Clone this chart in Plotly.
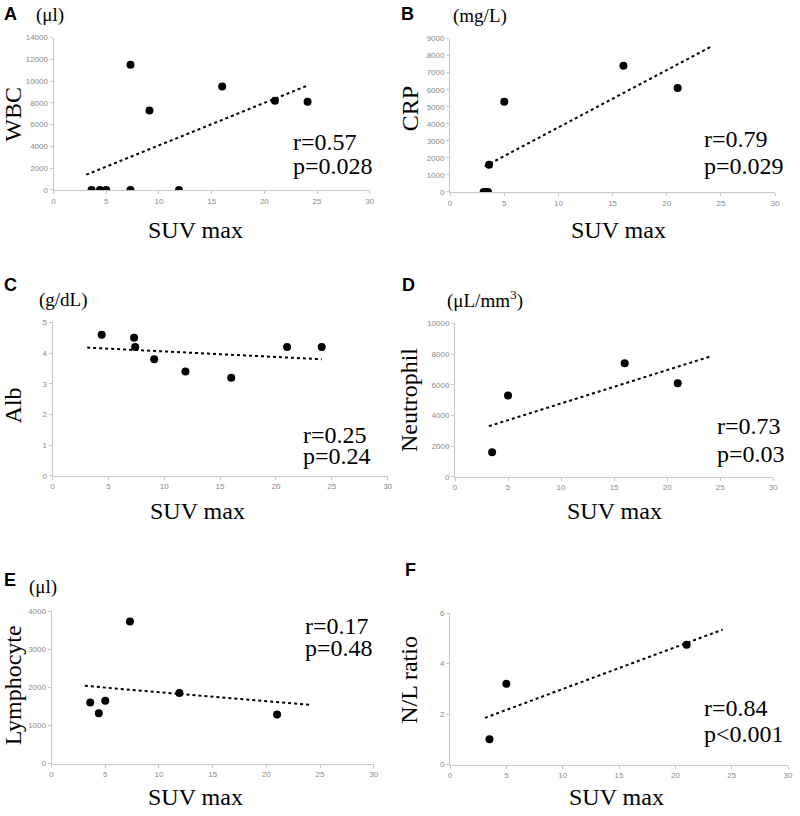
import plotly.graph_objects as go

W, H = 800, 816

# ---- data ----
a_suv = [3.6, 4.4, 5.0, 7.3, 7.3, 9.1, 11.9, 16.0, 21.0, 24.1]
a_wbc = [0, 0, 0, 0, 11500, 7300, 0, 9500, 8200, 8100]
a_trend_x = [3.1, 24.1]
a_trend_y = [1400, 9600]

b_suv = [3.1, 3.3, 3.5, 3.6, 5.0, 16.0, 21.0]
b_crp = [0, 0, 0, 1600, 5300, 7400, 6100]
b_trend_x = [3.2, 24.0]
b_trend_y = [1500, 8500]

c_suv = [4.4, 7.3, 7.4, 9.1, 11.9, 16.0, 21.0, 24.1]
c_alb = [4.6, 4.5, 4.2, 3.8, 3.4, 3.2, 4.2, 4.2]
c_trend_x = [3.1, 24.1]
c_trend_y = [4.18, 3.80]

d_suv = [3.5, 5.0, 16.0, 21.0]
d_neu = [1600, 5300, 7400, 6100]
d_trend_x = [3.2, 24.1]
d_trend_y = [3300, 7850]

e_suv = [3.6, 4.4, 5.0, 7.3, 11.9, 21.0]
e_lym = [1600, 1320, 1650, 3730, 1850, 1290]
e_trend_x = [3.1, 24.1]
e_trend_y = [2040, 1540]

f_suv = [3.5, 5.0, 21.0]
f_nl = [1.0, 3.2, 4.75]
f_trend_x = [3.1, 24.2]
f_trend_y = [1.85, 5.35]

x_ticks = [0, 5, 10, 15, 20, 25, 30]

panels = [
    dict(x=a_suv, y=a_wbc, tx=a_trend_x, ty=a_trend_y, ymax=14000, dt=2000,
         box=(52, 371, 34, 188), letter="A", unit="(μl)", ytitle="WBC",
         r="r=0.57", p="p=0.028"),
    dict(x=b_suv, y=b_crp, tx=b_trend_x, ty=b_trend_y, ymax=9000, dt=1000,
         box=(452, 780, 35, 190), letter="B", unit="(mg/L)", ytitle="CRP",
         r="r=0.79", p="p=0.029"),
    dict(x=c_suv, y=c_alb, tx=c_trend_x, ty=c_trend_y, ymax=5, dt=1,
         box=(51, 389, 322, 477), letter="C", unit="(g/dL)", ytitle="Alb",
         r="r=0.25", p="p=0.24"),
    dict(x=d_suv, y=d_neu, tx=d_trend_x, ty=d_trend_y, ymax=10000, dt=2000,
         box=(457, 778, 323, 478), letter="D", unit="(μL/mm<sup>3</sup>)", ytitle="Neutrophil",
         r="r=0.73", p="p=0.03"),
    dict(x=e_suv, y=e_lym, tx=e_trend_x, ty=e_trend_y, ymax=4000, dt=1000,
         box=(50, 375, 614, 768), letter="E", unit="(μl)", ytitle="Lymphocyte",
         r="r=0.17", p="p=0.48"),
    dict(x=f_suv, y=f_nl, tx=f_trend_x, ty=f_trend_y, ymax=6, dt=2,
         box=(452, 793, 616, 769), letter="F", unit="", ytitle="N/L ratio",
         r="r=0.84", p="p<0.001"),
]

# text placements (pixels): letter, unit, ytitle centre, xtitle centre, r/p left + centres
text_pos = [
    dict(letter=(0, 10), unit=(32, 11), yt=(11, 111), xt=(195, 229), rp=(292, 140, 164)),
    dict(letter=(400, 10), unit=(453, 12), yt=(411, 106), xt=(622, 229), rp=(706, 137, 164)),
    dict(letter=(0, 284), unit=(35, 299), yt=(11, 406), xt=(197, 513), rp=(302, 436, 457)),
    dict(letter=(402, 284), unit=(447, 299), yt=(410, 400), xt=(618, 513), rp=(719, 427, 455)),
    dict(letter=(0, 582), unit=(25, 589), yt=(11, 689), xt=(195, 802), rp=(304, 629, 651)),
    dict(letter=(405, 572), unit=(450, 590), yt=(411, 683), xt=(620, 802), rp=(706, 712, 738)),
]

SERIF = "Liberation Serif, Times New Roman, serif"
SANS = "Liberation Sans, Arial, sans-serif"

fig = go.Figure()
annotations = []

def px(x):
    return x / W

def py(y):
    return 1 - y / H

for i, (pn, tp) in enumerate(zip(panels, text_pos)):
    n = i + 1
    xa = "x" if n == 1 else f"x{n}"
    ya = "y" if n == 1 else f"y{n}"
    fig.add_trace(go.Scatter(x=pn["tx"], y=pn["ty"], mode="lines", xaxis=xa, yaxis=ya,
                             line=dict(color="black", width=2, dash="dot"),
                             showlegend=False, hoverinfo="skip"))
    fig.add_trace(go.Scatter(x=pn["x"], y=pn["y"], mode="markers", xaxis=xa, yaxis=ya,
                             marker=dict(color="black", size=8),
                             showlegend=False))
    x0, x1, y0, y1 = pn["box"]
    axis_common = dict(showline=True, linecolor="#c8c8c8", linewidth=1, showgrid=False,
                       zeroline=False, ticks="outside", ticklen=3, tickcolor="#c8c8c8",
                       tickformat="d",
                       tickfont=dict(family=SANS, size=8, color="#8a8a8a"))
    fig.update_layout(**{
        ("xaxis" if n == 1 else f"xaxis{n}"): dict(
            domain=[px(x0), px(x1)], anchor=ya, range=[0, 30], tickvals=x_ticks, **axis_common),
        ("yaxis" if n == 1 else f"yaxis{n}"): dict(
            domain=[py(y1), py(y0)], anchor=xa, range=[0, pn["ymax"]], dtick=pn["dt"],
            tick0=0, **axis_common),
    })
    lx, ly = tp["letter"]
    annotations.append(dict(x=px(lx), y=py(ly), xref="paper", yref="paper", text="<b>%s</b>" % pn["letter"],
                            showarrow=False, xanchor="left", yanchor="middle",
                            font=dict(family=SANS, size=18, color="black")))
    if pn["unit"]:
        ux, uy = tp["unit"]
        annotations.append(dict(x=px(ux), y=py(uy), xref="paper", yref="paper", text=pn["unit"],
                                showarrow=False, xanchor="left", yanchor="middle",
                                font=dict(family=SERIF, size=19, color="black")))
    yx, yy = tp["yt"]
    annotations.append(dict(x=px(yx), y=py(yy), xref="paper", yref="paper", text=pn["ytitle"],
                            showarrow=False, xanchor="center", yanchor="middle", textangle=-90,
                            font=dict(family=SERIF, size=24, color="black")))
    xx, xy = tp["xt"]
    annotations.append(dict(x=px(xx), y=py(xy), xref="paper", yref="paper", text="SUV max",
                            showarrow=False, xanchor="center", yanchor="middle",
                            font=dict(family=SERIF, size=24, color="black")))
    rx, ry, pyy = tp["rp"]
    annotations.append(dict(x=px(rx), y=py(ry), xref="paper", yref="paper", text=pn["r"],
                            showarrow=False, xanchor="left", yanchor="middle",
                            font=dict(family=SERIF, size=24, color="black")))
    annotations.append(dict(x=px(rx), y=py(pyy), xref="paper", yref="paper", text=pn["p"],
                            showarrow=False, xanchor="left", yanchor="middle",
                            font=dict(family=SERIF, size=24, color="black")))

fig.update_layout(width=W, height=H, margin=dict(l=0, r=0, t=0, b=0),
                  paper_bgcolor="white", plot_bgcolor="white",
                  annotations=annotations, showlegend=False)

fig.write_html("out.html", config={"displayModeBar": False},
               post_script="document.body.style.margin='0';document.body.style.padding='0';")
